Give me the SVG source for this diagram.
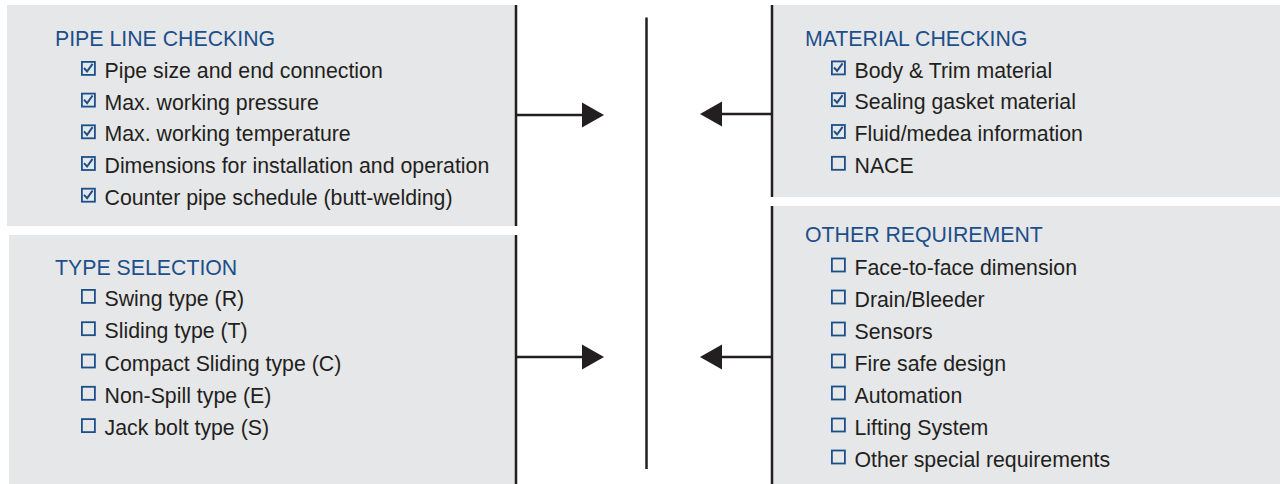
<svg xmlns="http://www.w3.org/2000/svg" width="1280" height="484" viewBox="0 0 1280 484">
<defs>
<style>
.panel{fill:#e6e7e8}
.edge{stroke:#231f20;stroke-width:2.5;fill:none}
.conn{stroke:#231f20;stroke-width:2.5;fill:none}
.head{fill:#231f20}
.h{font-family:"Liberation Sans",Arial,sans-serif;font-size:21.3px;fill:#1d4f8b}
.t{font-family:"Liberation Sans",Arial,sans-serif;font-size:21.3px;fill:#231f20}
.box{fill:none;stroke:#1d4f8b;stroke-width:1.8}
.chk{fill:none;stroke:#1d4f8b;stroke-width:2}
</style>
<g id="cb-on"><rect class="box" x="0.9" y="0.9" width="13" height="13"/><path class="chk" d="M3 7 L6.1 10.4 L11.6 2.8"/></g>
<g id="cb-off"><rect class="box" x="0.9" y="0.9" width="13" height="13"/></g>
</defs>
<rect width="1280" height="484" fill="#ffffff"/>

<g id="pipe-line-checking">
<rect class="panel" x="7" y="5" width="509" height="221"/>
<line class="edge" x1="516" y1="5" x2="516" y2="226"/>
<text class="h" x="55" y="45.5">PIPE LINE CHECKING</text>
<use href="#cb-on" x="81" y="61"/><text class="t" x="104.5" y="78">Pipe size and end connection</text>
<use href="#cb-on" x="81" y="92.7"/><text class="t" x="104.5" y="109.7">Max. working pressure</text>
<use href="#cb-on" x="81" y="124.4"/><text class="t" x="104.5" y="141.4">Max. working temperature</text>
<use href="#cb-on" x="81" y="156.1"/><text class="t" x="104.5" y="173.1">Dimensions for installation and operation</text>
<use href="#cb-on" x="81" y="187.8"/><text class="t" x="104.5" y="204.8">Counter pipe schedule (butt-welding)</text>
</g>

<g id="type-selection">
<rect class="panel" x="9" y="235" width="507" height="249"/>
<line class="edge" x1="516" y1="235" x2="516" y2="484"/>
<text class="h" x="55" y="274.5">TYPE SELECTION</text>
<use href="#cb-off" x="81" y="289"/><text class="t" x="104.5" y="306">Swing type (R)</text>
<use href="#cb-off" x="81" y="321.3"/><text class="t" x="104.5" y="338.3">Sliding type (T)</text>
<use href="#cb-off" x="81" y="353.6"/><text class="t" x="104.5" y="370.6">Compact Sliding type (C)</text>
<use href="#cb-off" x="81" y="385.9"/><text class="t" x="104.5" y="402.9">Non-Spill type (E)</text>
<use href="#cb-off" x="81" y="418.2"/><text class="t" x="104.5" y="435.2">Jack bolt type (S)</text>
</g>

<g id="material-checking">
<rect class="panel" x="772" y="5" width="508" height="192"/>
<line class="edge" x1="772" y1="5" x2="772" y2="197"/>
<text class="h" x="805" y="45.5">MATERIAL CHECKING</text>
<use href="#cb-on" x="831" y="60.5"/><text class="t" x="854.5" y="77.5">Body &amp; Trim material</text>
<use href="#cb-on" x="831" y="92.3"/><text class="t" x="854.5" y="109.3">Sealing gasket material</text>
<use href="#cb-on" x="831" y="124.1"/><text class="t" x="854.5" y="141.1">Fluid/medea information</text>
<use href="#cb-off" x="831" y="155.9"/><text class="t" x="854.5" y="172.9">NACE</text>
</g>

<g id="other-requirement">
<rect class="panel" x="772" y="206" width="508" height="278"/>
<line class="edge" x1="772" y1="206" x2="772" y2="484"/>
<text class="h" x="805" y="242">OTHER REQUIREMENT</text>
<use href="#cb-off" x="831" y="257.6"/><text class="t" x="854.5" y="274.6">Face-to-face dimension</text>
<use href="#cb-off" x="831" y="289.6"/><text class="t" x="854.5" y="306.6">Drain/Bleeder</text>
<use href="#cb-off" x="831" y="321.6"/><text class="t" x="854.5" y="338.6">Sensors</text>
<use href="#cb-off" x="831" y="353.6"/><text class="t" x="854.5" y="370.6">Fire safe design</text>
<use href="#cb-off" x="831" y="385.6"/><text class="t" x="854.5" y="402.6">Automation</text>
<use href="#cb-off" x="831" y="417.6"/><text class="t" x="854.5" y="434.6">Lifting System</text>
<use href="#cb-off" x="831" y="449.6"/><text class="t" x="854.5" y="466.6">Other special requirements</text>
</g>

<g id="center-bar">
<line class="edge" x1="646.5" y1="17.5" x2="646.5" y2="469"/>
</g>

<g id="connectors">
<line class="conn" x1="516" y1="115" x2="584" y2="115"/>
<polygon class="head" points="582,102.5 604,115 582,127.5"/>
<line class="conn" x1="516" y1="357" x2="584" y2="357"/>
<polygon class="head" points="582,344.5 604,357 582,369.5"/>
<line class="conn" x1="772" y1="114" x2="720" y2="114"/>
<polygon class="head" points="722,101.5 700,114 722,126.5"/>
<line class="conn" x1="772" y1="357" x2="720" y2="357"/>
<polygon class="head" points="722,344.5 700,357 722,369.5"/>
</g>
</svg>
